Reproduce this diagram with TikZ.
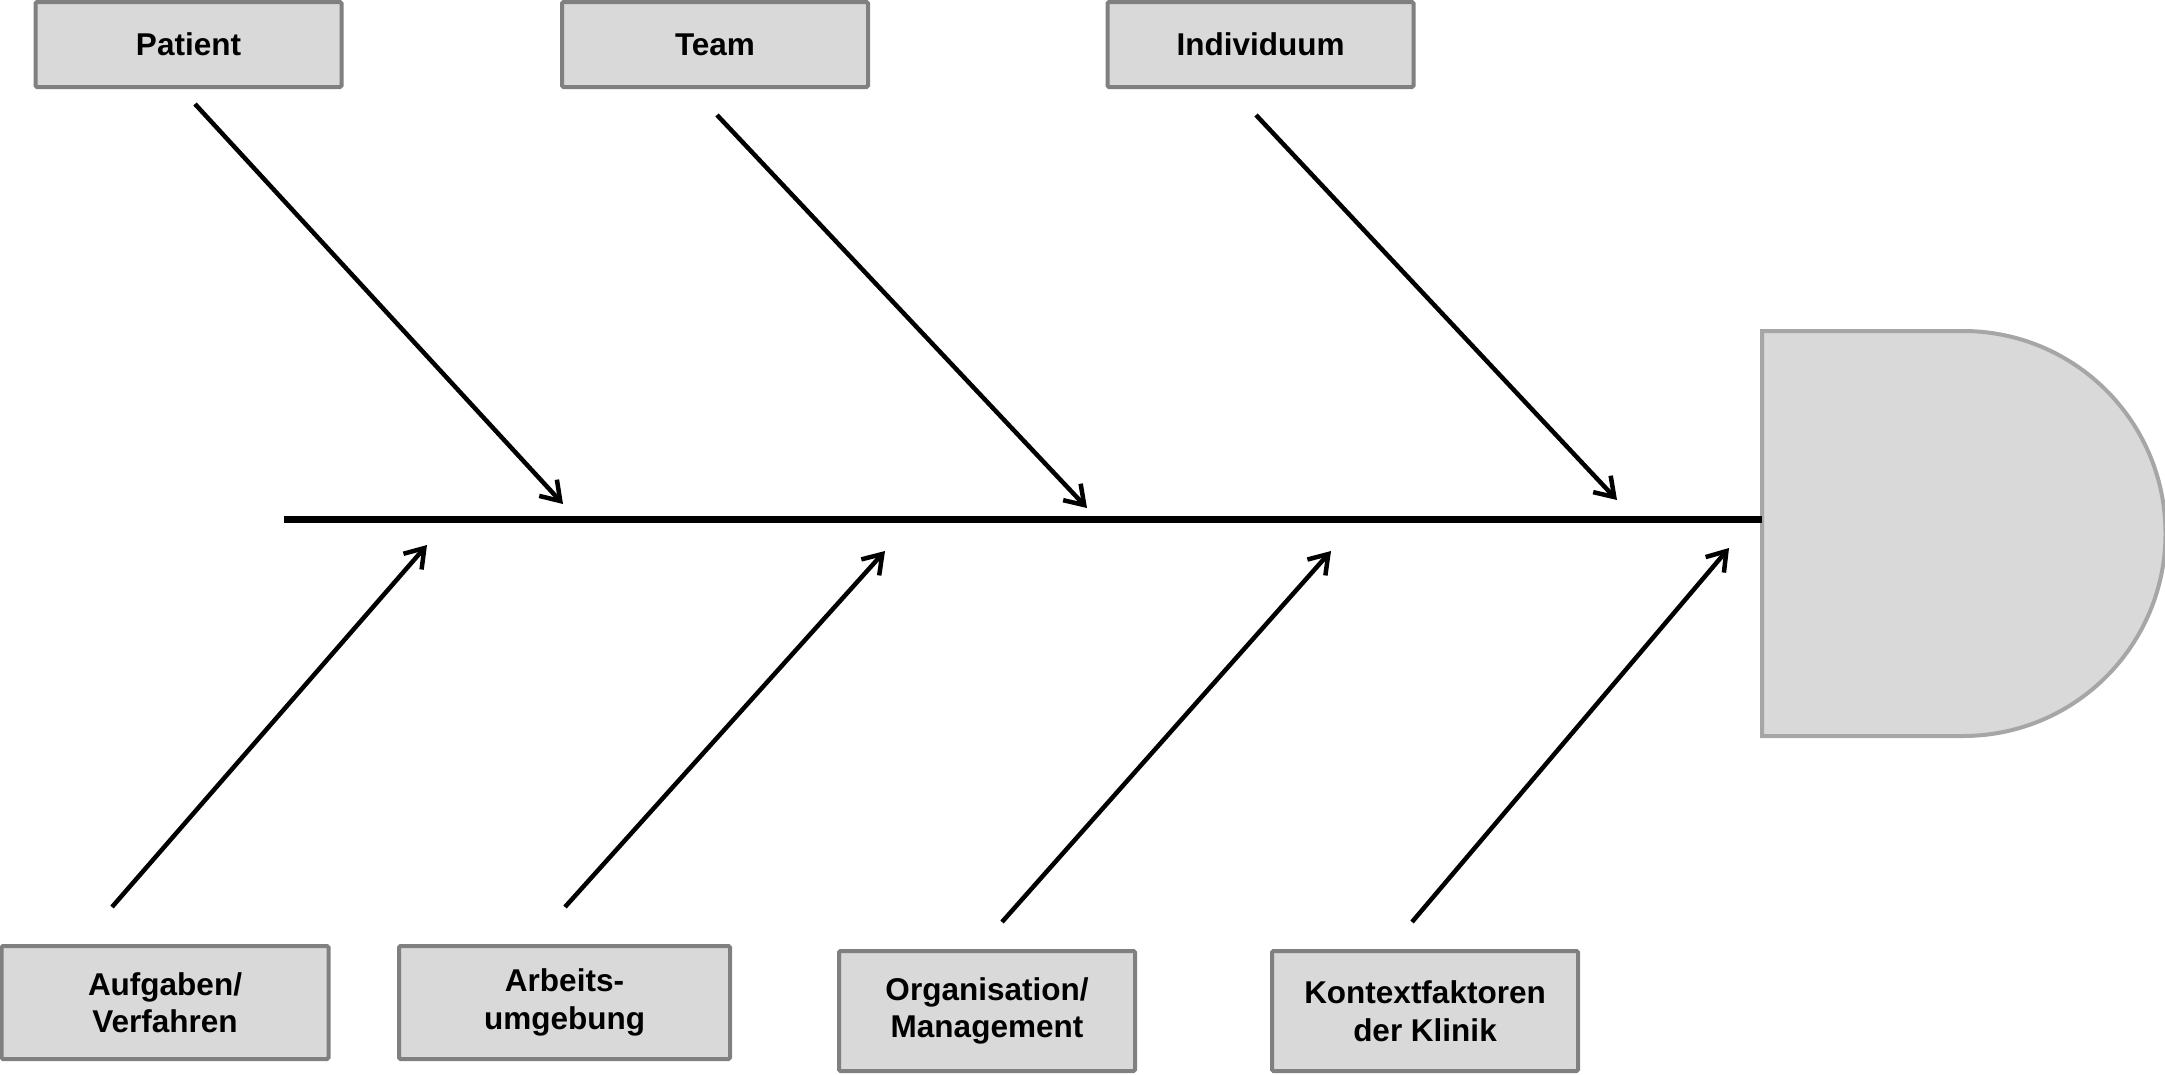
\documentclass[tikz,border=0pt]{standalone}
\usepackage{fontspec}
\setmainfont{Liberation Sans}
\usetikzlibrary{arrows.meta}
\definecolor{boxfill}{HTML}{D9D9D9}
\definecolor{boxline}{HTML}{808080}
\definecolor{headline}{HTML}{A6A6A6}
\begin{document}
\begin{tikzpicture}[x=1pt,y=-1pt,
  catbox/.style={draw=boxline,fill=boxfill,line width=4pt,rounded corners=1.5pt,
    align=center,inner sep=0pt,font=\fontsize{31.5}{37.5}\selectfont\bfseries},
  topbox/.style={catbox,minimum width=306pt,minimum height=85pt},
  botbox/.style={catbox,minimum height=113pt},
  bone/.style={line width=4.5pt,-{Straight Barb[length=18pt,width=24pt,line width=4.5pt]}},
  spine/.style={line width=7pt}]
\useasboundingbox (0,0) rectangle (2165,1074);
% head
\path[draw=headline,fill=boxfill,line width=4pt]
  (1762,331) -- (1963,331) arc[start angle=90,end angle=-90,radius=202.5pt]
  -- (1762,736) -- cycle;
\coordinate (spineL) at (284,519);
\coordinate (spineR) at (1762,519);
\draw[spine] (spineL) -- (spineR);
% top boxes
\node[topbox] (patient) at (188.5,44.5) {Patient};
\node[topbox] (team) at (715,44.5) {Team};
\node[topbox] (indiv) at (1260.5,44.5) {Individuum};
% bottom boxes
\node[botbox,minimum width=327pt] (aufg) at (165,1002.5) {Aufgaben/\\Verfahren};
\node[botbox,minimum width=331pt] (arb) at (564.5,1002.5) {Arbeits-\\umgebung};
\node[botbox,minimum width=296pt,minimum height=120pt] (org) at (987,1011) {Organisation/\\Management};
\node[botbox,minimum width=306pt,minimum height=120pt] (kon) at (1425,1011) {Kontextfaktoren\\der Klinik};
% bone coordinates
\coordinate (p1) at (195,104);  \coordinate (p2) at (563,504);
\coordinate (t1) at (717,115);  \coordinate (t2) at (1087,508);
\coordinate (i1) at (1256,115); \coordinate (i2) at (1617,500);
\coordinate (a1) at (112,907);  \coordinate (a2) at (427,545);
\coordinate (b1) at (565,907);  \coordinate (b2) at (885,551);
\coordinate (o1) at (1002,922); \coordinate (o2) at (1331,551);
\coordinate (k1) at (1412,922); \coordinate (k2) at (1729,548);
\draw[bone] (p1) -- (p2);
\draw[bone] (t1) -- (t2);
\draw[bone] (i1) -- (i2);
\draw[bone] (a1) -- (a2);
\draw[bone] (b1) -- (b2);
\draw[bone] (o1) -- (o2);
\draw[bone] (k1) -- (k2);
\end{tikzpicture}
\end{document}
